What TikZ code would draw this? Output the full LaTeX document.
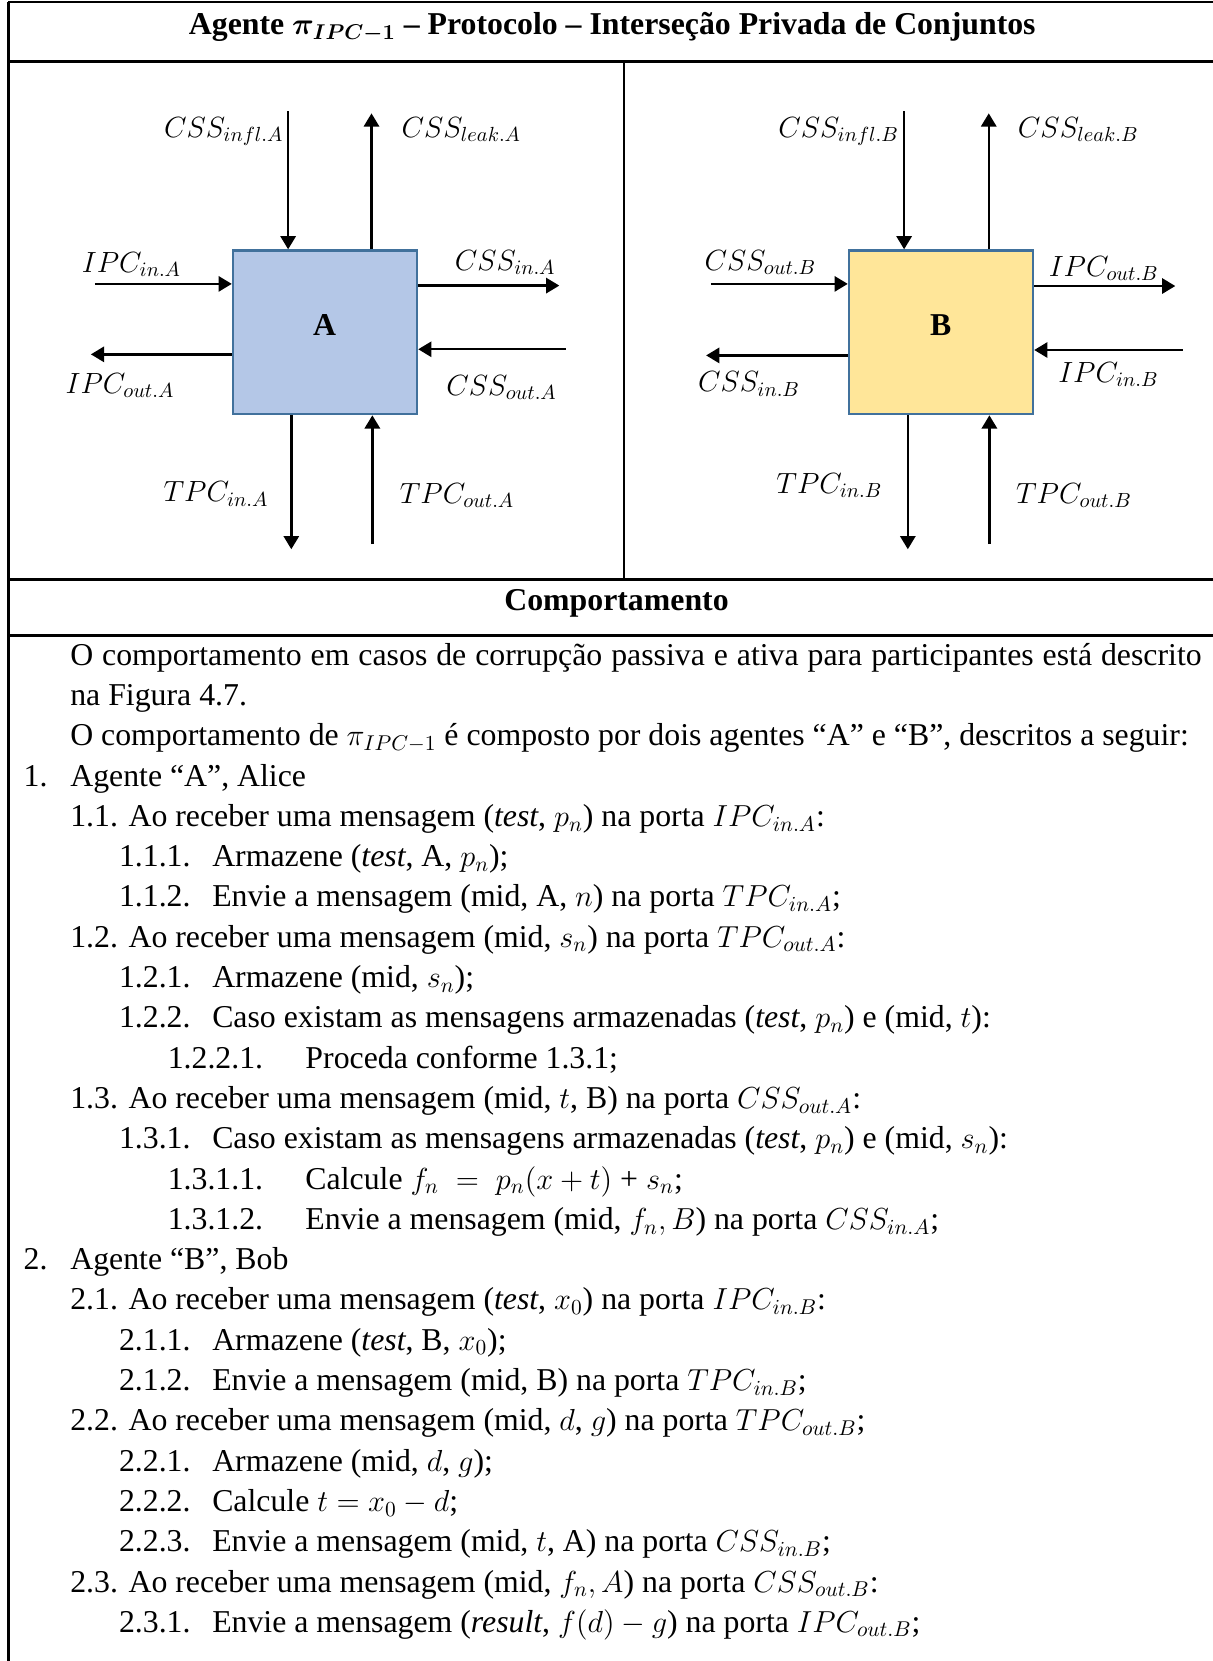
\RequirePackage{fix-cm}
\documentclass[tikz,border=0pt]{standalone}
\usepackage{fontspec}
\setmainfont{Liberation Serif}
\usetikzlibrary{arrows.meta}
% formulas sit a little smaller than the running text
\DeclareMathSizes{15.9}{15.2}{10.7}{7.6}

\definecolor{agentA}{HTML}{B4C7E7}
\definecolor{agentB}{HTML}{FFE699}
\definecolor{agentedge}{HTML}{41719C}

\begin{document}
\begin{tikzpicture}[x=0.5297pt,y=-0.5297pt,
  rule/.style={line width=1.1pt},
  port/.style={line width=1.2pt,-{Triangle[length=6.6pt,width=7.6pt]}},
  agentbox/.style={draw=agentedge,line width=1.3pt,minimum width=91.95pt,minimum height=81.7pt,inner sep=0pt},
  agentname/.style={anchor=base,inner sep=0pt,font=\bfseries\fontsize{15.9}{19}\selectfont},
  plabel/.style={anchor=base west,inner sep=0pt,font=\fontsize{14.6}{17}\selectfont},
  plabelr/.style={plabel,anchor=base east},
  txt/.style={anchor=base west,inner sep=0pt,font=\fontsize{15.9}{19}\selectfont},
  head/.style={anchor=base,inner sep=0pt,font=\bfseries\fontsize{15.9}{19}\selectfont},
]
\useasboundingbox (0,0) rectangle (1145,1568);

% table frame
\draw[rule] (8,2) -- (1145,2);
\draw[rule] (8,2) -- (8,1568);
\draw[rule] (8,58) -- (1145,58);
\draw[rule] (589,58) -- (589,547);
\draw[rule] (8,547) -- (1145,547);
\draw[rule] (8,600) -- (1145,600);

% headings
\node[head] (title) at (578,33) {Agente {\boldmath$\pi_{IPC-1}$} – Protocolo – Interseção Privada de Conjuntos};
\node[head] (behav) at (582,576) {Comportamento};

% agent A
\node[agentbox,fill=agentA] (A) at (306.8,313.7) {};
\node[agentname] (Aname) at (306.5,317) {A};
\coordinate (aInfl) at (272,105);
\coordinate (aLeak) at (350.7,107);
\coordinate (aIPCin) at (89.5,268);
\coordinate (aCSSin) at (528,269.6);
\coordinate (aIPCout) at (85.8,334.5);
\coordinate (aCSSout) at (534,329.7);
\coordinate (aTPCin) at (275,518.5);
\coordinate (aTPCout) at (351.5,513.7);
\draw[port] (aInfl) -- (aInfl |- A.north);
\draw[port] (aLeak |- A.north) -- (aLeak);
\draw[port] (aIPCin) -- (aIPCin -| A.west);
\draw[port] (aCSSin -| A.east) -- (aCSSin);
\draw[port] (aIPCout -| A.west) -- (aIPCout);
\draw[port] (aCSSout) -- (aCSSout -| A.east);
\draw[port] (aTPCin |- A.south) -- (aTPCin);
\draw[port] (aTPCout) -- (aTPCout |- A.south);
\node[plabelr] (lInflA) at (268,129.6) {$CSS_{infl.A}$};
\node[plabel] (lLeakA) at (378.7,129.6) {$CSS_{leak.A}$};
\node[plabel] (lIPCinA) at (77,257) {$IPC_{in.A}$};
\node[plabel] (lCSSinA) at (429,255) {$CSS_{in.A}$};
\node[plabel] (lIPCoutA) at (61.6,371) {$IPC_{out.A}$};
\node[plabel] (lCSSoutA) at (421,373) {$CSS_{out.A}$};
\node[plabel] (lTPCinA) at (154,473.6) {$TPC_{in.A}$};
\node[plabel] (lTPCoutA) at (377,475) {$TPC_{out.A}$};

% agent B
\node[agentbox,fill=agentB] (B) at (888.3,313.7) {};
\node[agentname] (Bname) at (888,317) {B};
\coordinate (bInfl) at (853.5,105);
\coordinate (bLeak) at (933.4,107);
\coordinate (bCSSout) at (671,268);
\coordinate (bIPCout) at (1109.5,270);
\coordinate (bCSSin) at (666.6,335.5);
\coordinate (bIPCin) at (1116.7,330.4);
\coordinate (bTPCin) at (857,518.5);
\coordinate (bTPCout) at (934,513.7);
\draw[port] (bInfl) -- (bInfl |- B.north);
\draw[port] (bLeak |- B.north) -- (bLeak);
\draw[port] (bCSSout) -- (bCSSout -| B.west);
\draw[port] (bIPCout -| B.east) -- (bIPCout);
\draw[port] (bCSSin -| B.west) -- (bCSSin);
\draw[port] (bIPCin) -- (bIPCin -| B.east);
\draw[port] (bTPCin |- B.south) -- (bTPCin);
\draw[port] (bTPCout) -- (bTPCout |- B.south);
\node[plabelr] (lInflB) at (849,129.6) {$CSS_{infl.B}$};
\node[plabel] (lLeakB) at (960.6,129.6) {$CSS_{leak.B}$};
\node[plabel] (lCSSoutB) at (664.7,255) {$CSS_{out.B}$};
\node[plabel] (lIPCoutB) at (989.7,261) {$IPC_{out.B}$};
\node[plabel] (lCSSinB) at (658.6,369.7) {$CSS_{in.B}$};
\node[plabel] (lIPCinB) at (998.7,361) {$IPC_{in.B}$};
\node[plabel] (lTPCinB) at (732.5,465.7) {$TPC_{in.B}$};
\node[plabel] (lTPCoutB) at (958.8,475) {$TPC_{out.B}$};

% behaviour text
\node[txt] (t1) at (66,628) {\makebox[565.7pt][s]{O comportamento em casos de corrupção passiva e ativa para participantes está descrito}};
\node[txt] (t2) at (66,666) {na Figura 4.7.};
\node[txt] (t3) at (66,704.1) {O comportamento de $\pi_{IPC-1}$ é composto por dois agentes “A” e “B”, descritos a seguir:};
\node[txt] (n4) at (22,742.1) {1.};
\node[txt] (t4) at (66,742.1) {Agente “A”, Alice};
\node[txt] (n5) at (66,780.2) {1.1.};
\node[txt] (t5) at (121,780.2) {Ao receber uma mensagem (\textit{test}, $p_n$) na porta $IPC_{in.A}$:};
\node[txt] (n6) at (112,818.2) {1.1.1.};
\node[txt] (t6) at (200,818.2) {Armazene (\textit{test}, A, $p_n$);};
\node[txt] (n7) at (112,856.2) {1.1.2.};
\node[txt] (t7) at (200,856.2) {Envie a mensagem (mid, A, $n$) na porta $TPC_{in.A}$;};
\node[txt] (n8) at (66,894.3) {1.2.};
\node[txt] (t8) at (121,894.3) {Ao receber uma mensagem (mid, $s_n$) na porta $TPC_{out.A}$:};
\node[txt] (n9) at (112,932.3) {1.2.1.};
\node[txt] (t9) at (200,932.3) {Armazene (mid, $s_n$);};
\node[txt] (n10) at (112,970.4) {1.2.2.};
\node[txt] (t10) at (200,970.4) {Caso existam as mensagens armazenadas (\textit{test}, $p_n$) e (mid, $t$):};
\node[txt] (n11) at (158,1008.4) {1.2.2.1.};
\node[txt] (t11) at (288,1008.4) {Proceda conforme 1.3.1;};
\node[txt] (n12) at (66,1046.4) {1.3.};
\node[txt] (t12) at (121,1046.4) {Ao receber uma mensagem (mid, $t$, B) na porta $CSS_{out.A}$:};
\node[txt] (n13) at (112,1084.5) {1.3.1.};
\node[txt] (t13) at (200,1084.5) {Caso existam as mensagens armazenadas (\textit{test}, $p_n$) e (mid, $s_n$):};
\node[txt] (n14) at (158,1122.5) {1.3.1.1.};
\node[txt] (t14) at (288,1122.5) {Calcule $f_n\;=\;p_n(x+t)$\hspace{4pt}+\hspace{4pt}$s_n$;};
\node[txt] (n15) at (158,1160.6) {1.3.1.2.};
\node[txt] (t15) at (288,1160.6) {Envie a mensagem (mid, $f_n,B$) na porta $CSS_{in.A}$;};
\node[txt] (n16) at (22,1198.6) {2.};
\node[txt] (t16) at (66,1198.6) {Agente “B”, Bob};
\node[txt] (n17) at (66,1236.6) {2.1.};
\node[txt] (t17) at (121,1236.6) {Ao receber uma mensagem (\textit{test}, $x_0$) na porta $IPC_{in.B}$:};
\node[txt] (n18) at (112,1274.7) {2.1.1.};
\node[txt] (t18) at (200,1274.7) {Armazene (\textit{test}, B, $x_0$);};
\node[txt] (n19) at (112,1312.7) {2.1.2.};
\node[txt] (t19) at (200,1312.7) {Envie a mensagem (mid, B) na porta $TPC_{in.B}$;};
\node[txt] (n20) at (66,1350.8) {2.2.};
\node[txt] (t20) at (121,1350.8) {Ao receber uma mensagem (mid, $d$, $g$) na porta $TPC_{out.B}$;};
\node[txt] (n21) at (112,1388.8) {2.2.1.};
\node[txt] (t21) at (200,1388.8) {Armazene (mid, $d$, $g$);};
\node[txt] (n22) at (112,1426.8) {2.2.2.};
\node[txt] (t22) at (200,1426.8) {Calcule $t = x_0-d$;};
\node[txt] (n23) at (112,1464.9) {2.2.3.};
\node[txt] (t23) at (200,1464.9) {Envie a mensagem (mid, $t$, A) na porta $CSS_{in.B}$;};
\node[txt] (n24) at (66,1502.9) {2.3.};
\node[txt] (t24) at (121,1502.9) {Ao receber uma mensagem (mid, $f_n,A$) na porta $CSS_{out.B}$:};
\node[txt] (n25) at (112,1541) {2.3.1.};
\node[txt] (t25) at (200,1541) {Envie a mensagem (\textit{result}, $f(d)-g$) na porta $IPC_{out.B}$;};
\end{tikzpicture}
\end{document}
